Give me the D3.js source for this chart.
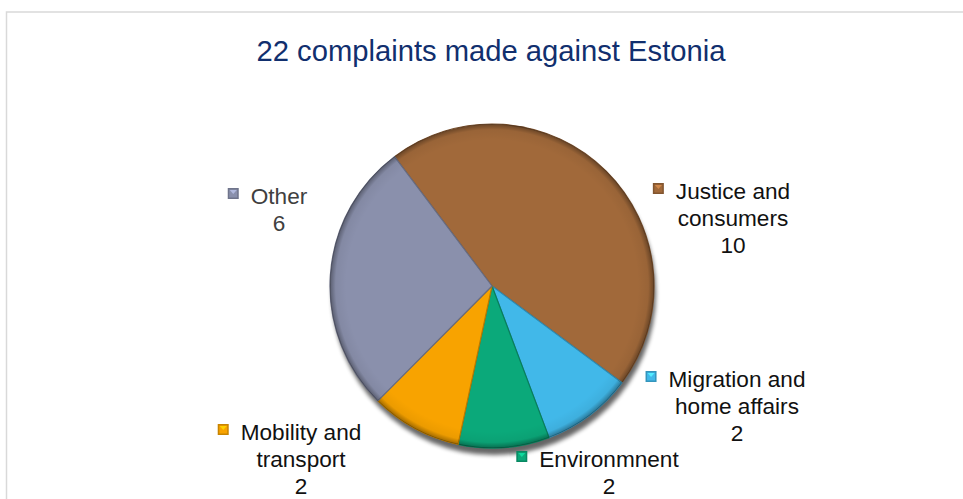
<!DOCTYPE html>
<html>
<head>
<meta charset="utf-8">
<script src="https://cdn.jsdelivr.net/npm/d3@7"></script>
<style>
  html, body { margin: 0; padding: 0; background: #fff; }
  svg { display: block; }
  text { font-family: Arial, "Liberation Sans", sans-serif; }
</style>
</head>
<body>
<svg id="chart" width="963" height="499"></svg>
<script>
// ---- data ----
const title = "22 complaints made against Estonia";
const categories = ["Justice and\nconsumers", "Migration and\nhome affairs", "Environmnent", "Mobility and\ntransport", "Other"];
const values = [10, 2, 2, 2, 6];
const colors = ["#A1693A", "#41B8E9", "#0BA97A", "#F8A300", "#8A90AC"];

// ---- layout ----
const W = 963, H = 499;
const cx = 492, cy = 286, R = 162;
const firstSliceAngle = -37 * Math.PI / 180;
// label block placement, relative to pie centre (x = block centre, y = first baseline)
const labelLayout = [
  { dx: 241, dy: -87, color: "#111" },
  { dx: 245, dy: 101, color: "#111" },
  { dx: 117, dy: 181, color: "#111" },
  { dx: -191, dy: 154, color: "#111" },
  { dx: -213, dy: -82, color: "#404040" }
];
const fontSize = 22.6, lineH = 27;

const svg = d3.select("#chart");
const defs = svg.append("defs");

// frame
svg.append("rect")
  .attr("x", 6.5).attr("y", 12)
  .attr("width", 980).attr("height", 520)
  .attr("fill", "none").attr("stroke", "#d9d9d9").attr("stroke-width", 1.5);

// title
svg.append("text")
  .attr("x", 491).attr("y", 60.5)
  .attr("text-anchor", "middle")
  .attr("font-size", 29.2)
  .attr("fill", "#112F6E")
  .text(title);

// shadow filter
const sh = defs.append("filter").attr("id", "shadow").attr("x", "-20%").attr("y", "-20%").attr("width", "140%").attr("height", "140%");
sh.append("feGaussianBlur").attr("stdDeviation", 2);

// rim gradient for bevel look
const rim = defs.append("radialGradient").attr("id", "rim")
  .attr("gradientUnits", "userSpaceOnUse")
  .attr("cx", 0).attr("cy", 0).attr("r", R);
rim.append("stop").attr("offset", 0.9).attr("stop-color", "#000").attr("stop-opacity", 0);
rim.append("stop").attr("offset", 0.965).attr("stop-color", "#000").attr("stop-opacity", 0.05);
rim.append("stop").attr("offset", 1).attr("stop-color", "#000").attr("stop-opacity", 0.35);

const pie = d3.pie().sort(null).value(d => d)
  .startAngle(firstSliceAngle).endAngle(firstSliceAngle + 2 * Math.PI);
const arcs = pie(values);
const arc = d3.arc().innerRadius(0).outerRadius(R);

const g = svg.append("g").attr("transform", `translate(${cx},${cy})`);

// drop shadow
g.append("circle")
  .attr("cx", 2).attr("cy", 7).attr("r", R)
  .attr("fill", "#000").attr("opacity", 0.6)
  .attr("filter", "url(#shadow)");

const slices = g.selectAll("g.slice").data(arcs).join("g").attr("class", "slice");
slices.append("path")
  .attr("d", arc)
  .attr("fill", (d, i) => colors[i])
  .attr("stroke", (d, i) => d3.color(colors[i]).darker(0.8))
  .attr("stroke-width", 1.2)
  .attr("stroke-linejoin", "round");
slices.append("path")
  .attr("d", arc)
  .attr("fill", "url(#rim)");

// labels with legend key
const lab = svg.selectAll("g.lab").data(arcs).join("g").attr("class", "lab");
lab.each(function(d, i) {
  const L = labelLayout[i];
  const x = cx + L.dx, y0 = cy + L.dy;
  const lines = categories[i].split("\n").concat([String(values[i])]);
  const gg = d3.select(this);
  const t = gg.append("text")
    .attr("text-anchor", "middle")
    .attr("font-size", fontSize)
    .attr("fill", L.color);
  lines.forEach((ln, k) => {
    t.append("tspan").attr("x", x).attr("y", y0 + k * lineH).text(ln);
  });
  // measure first line to place the key square
  const first = t.select("tspan").node();
  const w = first.getComputedTextLength();
  const sx = x - w / 2 - 12 - 11;
  const sy = y0 - 16;
  const c = colors[i];
  gg.append("rect").attr("x", sx).attr("y", sy).attr("width", 11).attr("height", 11)
    .attr("fill", d3.color(c).darker(0.6));
  gg.append("rect").attr("x", sx + 1.5).attr("y", sy + 1.5).attr("width", 8).attr("height", 8)
    .attr("fill", c);
  gg.append("path")
    .attr("d", `M${sx + 2},${sy + 2}L${sx + 9},${sy + 2}L${sx + 5.5},${sy + 6}Z`)
    .attr("fill", d3.color(c).brighter(0.7));
});
</script>
</body>
</html>
